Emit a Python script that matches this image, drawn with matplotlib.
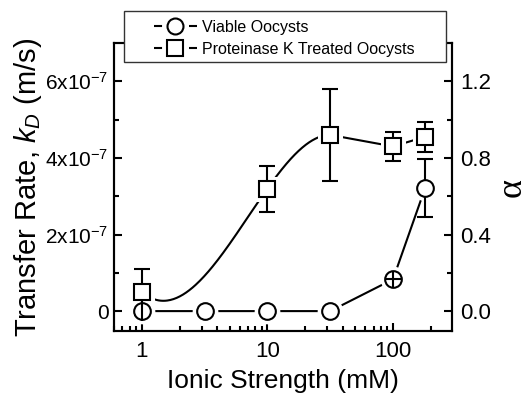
import numpy as np
import matplotlib
matplotlib.use('Agg')
import matplotlib.pyplot as plt
from matplotlib.lines import Line2D
from matplotlib.patches import Rectangle
from matplotlib.ticker import LogLocator, NullFormatter

plt.rcParams['font.family'] = ['Liberation Sans', 'DejaVu Sans']
plt.rcParams['mathtext.fontset'] = 'custom'
plt.rcParams['mathtext.rm'] = 'Liberation Sans'
plt.rcParams['mathtext.it'] = 'Liberation Sans:italic'

# ---------------- data ----------------
ionic_viable = [1, 3.16, 10, 31.6, 100, 180]
kd_viable = [0.0, 0.0, 0.0, 0.0, 0.83e-7, 3.21e-7]
err_viable = [0.0, 0.0, 0.0, 0.0, 0.0, 0.75e-7]

ionic_pk = [1, 10, 31.6, 100, 180]
kd_pk = [0.5e-7, 3.2e-7, 4.6e-7, 4.3e-7, 4.55e-7]
err_pk = [0.6e-7, 0.6e-7, 1.2e-7, 0.37e-7, 0.4e-7]

x_ticks = [1, 10, 100]
x_ticklabels = ['1', '10', '100']
y_ticks = [0, 2e-7, 4e-7, 6e-7]
y_ticklabels = ['0', '2x10$^{-7}$', '4x10$^{-7}$', '6x10$^{-7}$']
y_minor = [1e-7, 3e-7, 5e-7]
alpha_ticks = [0.0, 0.4, 0.8, 1.2]
alpha_ticklabels = ['0.0', '0.4', '0.8', '1.2']
alpha_minor = [0.2, 0.6, 1.0]
alpha_per_kd = 2e6

labels = ['Viable Oocysts', 'Proteinase K Treated Oocysts']


def clamped_spline(u, y, s0, s1, n=120):
    u = np.asarray(u, float)
    y = np.asarray(y, float)
    k = len(u)
    h = np.diff(u)
    d = np.diff(y) / h
    A = np.zeros((k, k))
    b = np.zeros(k)
    A[0, 0] = 1; b[0] = s0
    A[-1, -1] = 1; b[-1] = s1
    for i in range(1, k - 1):
        A[i, i - 1] = 1 / h[i - 1]
        A[i, i] = 2 * (1 / h[i - 1] + 1 / h[i])
        A[i, i + 1] = 1 / h[i]
        b[i] = 3 * (d[i - 1] / h[i - 1] + d[i] / h[i])
    m = np.linalg.solve(A, b)
    uu, yy = [], []
    for i in range(k - 1):
        t = np.linspace(0, 1, n)
        h00 = 2 * t**3 - 3 * t**2 + 1
        h10 = t**3 - 2 * t**2 + t
        h01 = -2 * t**3 + 3 * t**2
        h11 = t**3 - t**2
        uu.append(u[i] + t * h[i])
        yy.append(h00 * y[i] + h10 * h[i] * m[i] + h01 * y[i + 1] + h11 * h[i] * m[i + 1])
    return np.concatenate(uu), np.concatenate(yy)


fig = plt.figure(figsize=(5.27, 3.96), dpi=100)
ax = fig.add_axes([0.2163, 0.1641, 0.6414, 0.7273])

LW = 1.5
MEW = 1.5
MS_C = 12
MS_S = 11.5
HALO = 6.5

# connecting lines
ax.plot(ionic_viable, kd_viable, color='black', lw=LW, zorder=2)
u_s, y_s = clamped_spline(np.log10(ionic_pk[:3]), kd_pk[:3], -2.8e-7, 0.0)
ax.plot(10 ** u_s, y_s, color='black', lw=LW, zorder=2)
ax.plot(ionic_pk[2:], kd_pk[2:], color='black', lw=LW, zorder=2)

# white halos giving gaps between lines and markers
ax.plot(ionic_viable, kd_viable, ls='none', marker='o', ms=MS_C, mfc='white',
        mec='white', mew=HALO, zorder=3)
ax.plot(ionic_pk, kd_pk, ls='none', marker='s', ms=MS_S, mfc='white',
        mec='white', mew=HALO, zorder=3)

# error bars
ax.errorbar(ionic_viable, kd_viable, yerr=err_viable, fmt='none', ecolor='black',
            elinewidth=LW, capsize=5.5, capthick=LW, zorder=4)
ax.errorbar(ionic_pk, kd_pk, yerr=err_pk, fmt='none', ecolor='black',
            elinewidth=LW, capsize=5.5, capthick=LW, zorder=4)

# markers
ax.plot(ionic_viable, kd_viable, ls='none', marker='o', ms=MS_C, mfc='white',
        mec='black', mew=MEW, zorder=5)
ax.plot(ionic_pk, kd_pk, ls='none', marker='s', ms=MS_S, mfc='white',
        mec='black', mew=MEW, zorder=6)
# error bar lines seen across the small circles
ax.plot(ionic_viable, kd_viable, ls='none', marker='|', ms=MS_C + 2, mec='black',
        mew=LW, markevery=[0], zorder=6)
ax.plot(ionic_viable, kd_viable, ls='none', marker='+', ms=MS_C, mec='black',
        mew=LW, markevery=[4], zorder=6)

ax.set_xscale('log')
ax.set_xlim(0.6, 295)
ax.set_ylim(-0.52e-7, 7.0e-7)
ax.set_xticks(x_ticks)
ax.set_xticklabels(x_ticklabels)
ax.xaxis.set_minor_locator(LogLocator(base=10, subs=np.arange(2, 10)))
ax.xaxis.set_minor_formatter(NullFormatter())
ax.set_yticks(y_ticks)
ax.set_yticklabels(y_ticklabels)
ax.set_yticks(y_minor, minor=True)
ax.tick_params(which='both', direction='in', width=1.5, top=False, right=False)
ax.tick_params(which='major', length=6)
ax.tick_params(which='minor', length=3.5)
ax.tick_params(axis='x', which='major', labelsize=16, pad=7)
ax.tick_params(axis='y', which='major', labelsize=15, pad=4)
for sp in ax.spines.values():
    sp.set_linewidth(1.5)

ax.set_xlabel('Ionic Strength (mM)', fontsize=19, labelpad=5)
ax.set_ylabel('Transfer Rate, $k_D$ (m/s)', fontsize=21, labelpad=1)

ax2 = ax.twinx()
lo, hi = ax.get_ylim()
ax2.set_ylim(lo * alpha_per_kd, hi * alpha_per_kd)
ax2.set_yticks(alpha_ticks)
ax2.set_yticklabels(alpha_ticklabels)
ax2.set_yticks(alpha_minor, minor=True)
ax2.tick_params(which='both', direction='in', width=1.5)
ax2.tick_params(which='major', length=6, labelsize=16, pad=6)
ax2.tick_params(which='minor', length=3.5)
for sp in ax2.spines.values():
    sp.set_linewidth(1.5)
ax2.set_ylabel('α', fontsize=26, family=['Liberation Serif', 'DejaVu Serif'],
               rotation=90, labelpad=3)

# legend
box = Rectangle((0.2353, 0.8434), 0.8463 - 0.2353, 0.9722 - 0.8434,
                transform=fig.transFigure, facecolor='white', edgecolor='#333333',
                lw=1.0, zorder=5)
fig.patches.append(box)

# dash pattern leaves a gap around the legend marker ("-O-")
gap_dashes = (5.8 / LW, 19.4 / LW)
handles = [
    Line2D([], [], color='black', lw=LW, dashes=gap_dashes, marker='o', ms=MS_C - 0.5,
           mfc='white', mec='black', mew=MEW),
    Line2D([], [], color='black', lw=LW, dashes=gap_dashes, marker='s', ms=MS_S - 0.5,
           mfc='white', mec='black', mew=MEW),
]
leg = fig.legend(handles, labels, loc='upper left', bbox_to_anchor=(0.292, 0.950),
                 frameon=False, fontsize=11.5, borderpad=0, borderaxespad=0,
                 labelspacing=0.45, handlelength=2.7, handletextpad=0.3, numpoints=1)
leg.set_zorder(6)

fig.savefig('out.png', dpi=100)
